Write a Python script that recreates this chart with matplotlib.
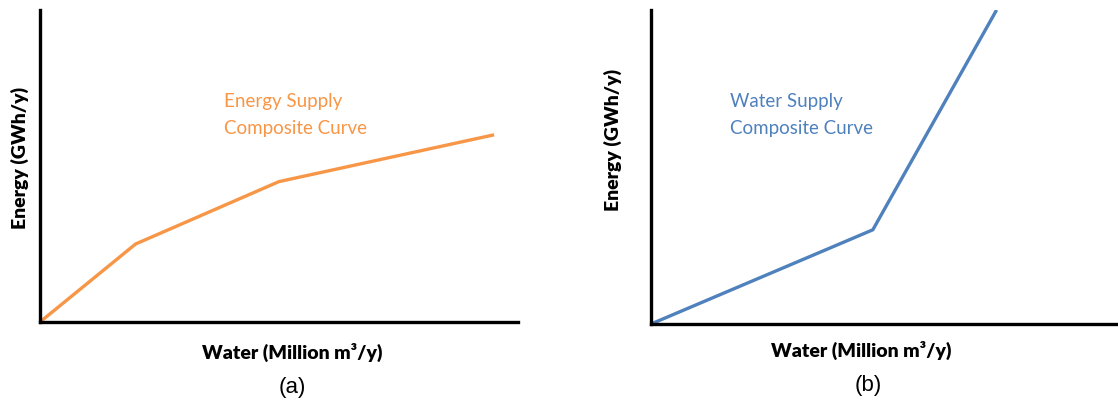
import matplotlib.pyplot as plt

# curve data (arbitrary units, 0-100 on each axis)
energy_x = [0, 20, 50, 95]
energy_y = [0, 25, 45, 60]
water_x = [0, 47.5, 74]
water_y = [0, 30, 100]

orange = "#F79646"
blue = "#4F81BD"
W, H = 1118, 401

fig = plt.figure(figsize=(W / 100, H / 100), dpi=100)

def px_axes(x0, y0, x1, y1):
    # axes box given in pixel coords (top-left origin)
    return fig.add_axes([x0 / W, (H - y1) / H, (x1 - x0) / W, (y1 - y0) / H])

def style(ax):
    for s in ["top", "right"]:
        ax.spines[s].set_visible(False)
    for s in ["left", "bottom"]:
        ax.spines[s].set_linewidth(2.4)
        ax.spines[s].set_color("black")
    ax.set_xticks([])
    ax.set_yticks([])
    ax.set_xlim(0, 100)
    ax.set_ylim(0, 100)

ax1 = px_axes(40, 10, 518, 322)
style(ax1)
ax1.plot(energy_x, energy_y, color=orange, lw=2.4, solid_capstyle="butt")

ax2 = px_axes(651, 10, 1118, 324)
style(ax2)
ax2.plot(water_x, water_y, color=blue, lw=2.4, solid_capstyle="butt")

lab = dict(fontfamily="Lato", fontweight="heavy", fontsize=14)
fig.text(20 / W, 1 - 158 / H, "Energy (GWh/y)", rotation=90, ha="center", va="center", **lab)
fig.text(613 / W, 1 - 140 / H, "Energy (GWh/y)", rotation=90, ha="center", va="center", **lab)
fig.text(292 / W, 1 - 352 / H, "Water (Million m³/y)", ha="center", va="center", **lab)
fig.text(861 / W, 1 - 350 / H, "Water (Million m³/y)", ha="center", va="center", **lab)

fig.text(292 / W, 1 - 388 / H, "(a)", ha="center", va="center", fontfamily="Liberation Sans", fontsize=16)
fig.text(868 / W, 1 - 385 / H, "(b)", ha="center", va="center", fontfamily="Liberation Sans", fontsize=16)

ann = dict(fontfamily="Lato", fontsize=13.5, ha="left", va="center", linespacing=1.65)
fig.text(224 / W, 1 - 115 / H, "Energy Supply\nComposite Curve", color=orange, **ann)
fig.text(730 / W, 1 - 115 / H, "Water Supply\nComposite Curve", color=blue, **ann)

fig.savefig("out.png", dpi=100)
